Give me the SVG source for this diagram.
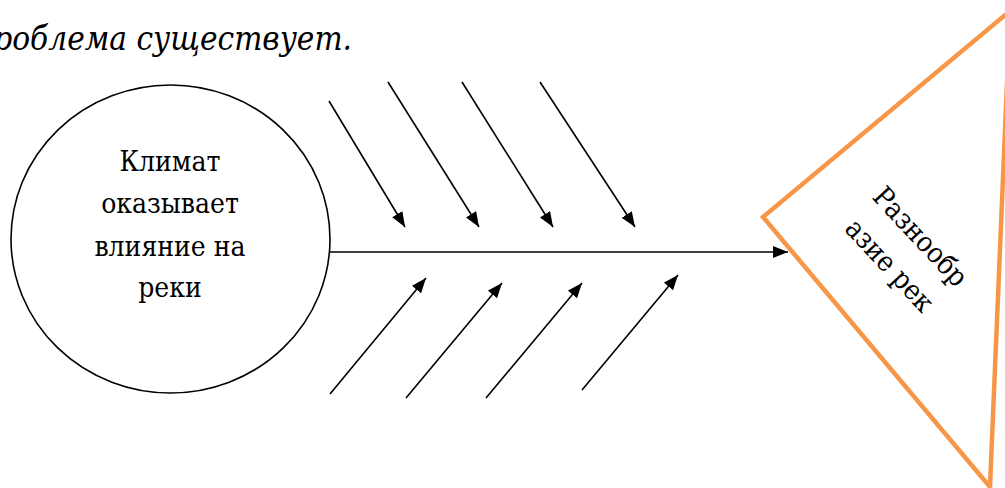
<svg xmlns="http://www.w3.org/2000/svg" width="1005" height="488" viewBox="0 0 1005 488">
<defs>
<style>
.ln{stroke:#000;stroke-width:1.6;fill:none}
.sf{font-family:"DejaVu Serif Condensed","DejaVu Serif",serif}
</style>
<marker id="ahb" viewBox="0 0 10 10" refX="10" refY="5" markerWidth="15" markerHeight="12" markerUnits="userSpaceOnUse" orient="auto" preserveAspectRatio="none">
<path d="M0,0 L10,5 L0,10 z" fill="#000"/>
</marker>
</defs>
<rect width="1005" height="488" fill="#fff"/>
<text class="sf" x="352" y="50" font-style="italic" font-size="33" text-anchor="end" fill="#000">проблема существует.</text>
<g id="connectors">
<line x1="329" y1="101" x2="405" y2="227" class="ln" marker-end="url(#ahb)"/>
<line x1="388" y1="82" x2="479" y2="227" class="ln" marker-end="url(#ahb)"/>
<line x1="462" y1="82" x2="553" y2="227" class="ln" marker-end="url(#ahb)"/>
<line x1="540" y1="82" x2="635" y2="227" class="ln" marker-end="url(#ahb)"/>
<line x1="330" y1="394" x2="426" y2="278" class="ln" marker-end="url(#ahb)"/>
<line x1="406" y1="398" x2="502" y2="283" class="ln" marker-end="url(#ahb)"/>
<line x1="486" y1="398" x2="582" y2="283" class="ln" marker-end="url(#ahb)"/>
<line x1="582" y1="390" x2="678" y2="275" class="ln" marker-end="url(#ahb)"/>
<line x1="329" y1="252" x2="788" y2="252" class="ln" marker-end="url(#ahb)"/>
</g>
<g id="cause">
<ellipse cx="170.5" cy="239" rx="159.5" ry="154" fill="none" stroke="#000" stroke-width="1.6"/>
<g class="sf" font-size="28" text-anchor="middle" fill="#000">
<text x="170" y="171">Климат</text>
<text x="170" y="213">оказывает</text>
<text x="170" y="256">влияние на</text>
<text x="170" y="297">реки</text>
</g>
</g>
<g id="effect">
<polygon points="763,217 1010,11 990,487" fill="#fff" stroke="#F79646" stroke-width="4.5" stroke-linejoin="miter"/>
<g class="sf" transform="translate(904,252) rotate(47)" font-size="28" text-anchor="middle" fill="#000">
<text x="0" y="-13">Разнообр</text>
<text x="0" y="29">азие рек</text>
</g>
</g>
</svg>
